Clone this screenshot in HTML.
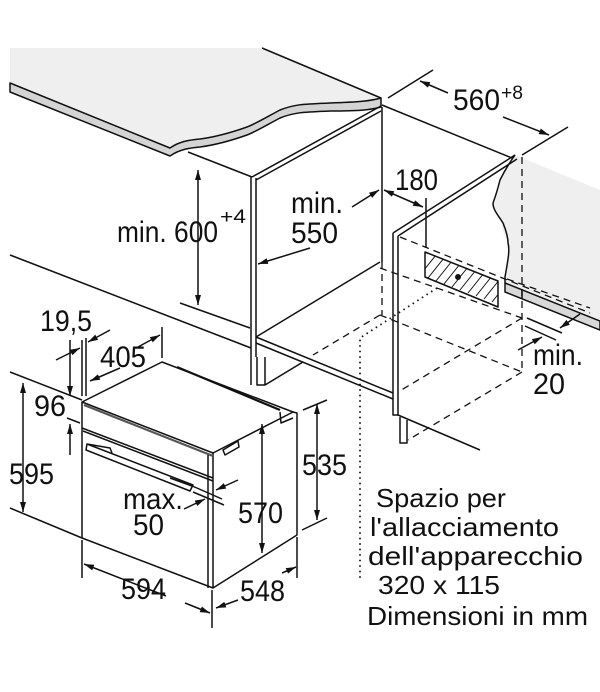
<!DOCTYPE html>
<html><head><meta charset="utf-8"><style>
html,body{margin:0;padding:0;background:#fff;}
svg{display:block;}
text{font-family:"Liberation Sans",Arial,sans-serif;fill:#111;}
</style></head><body>
<svg width="600" height="692" viewBox="0 0 600 692" xmlns="http://www.w3.org/2000/svg">
<defs>
<marker id="a" viewBox="0 0 10 6" refX="10" refY="3" markerWidth="10" markerHeight="6" orient="auto-start-reverse" markerUnits="userSpaceOnUse">
<path d="M0,0 L10,3 L0,6 z" fill="#111"/></marker>
</defs>
<g fill="none" stroke="#111" stroke-width="1.5" stroke-linejoin="round">

<!-- countertop -->
<path d="M10,48 L262,48 L381,98 C370,101 360,102 330,103 C305,104 295,104 280,110 C265,118 255,124 247,127 C230,133 215,137 200,139 C190,140 180,141 170,148 L10,83 Z" fill="#efefef" stroke="none"/>
<path d="M10,83 L170,148 C180,141 190,140 200,139 C215,137 230,133 247,127 C255,124 265,118 280,110 C295,104 305,104 330,103 C360,102 370,101 381,98 L381,107 C370,110 360,111 330,111 C305,112 295,112 280,118 C265,126 255,132 247,135 C230,141 215,145 200,147 C190,148 180,149 170,156 L10,92 Z" fill="#d4d4d4"/>
<path d="M262,48 L381,98"/>

<!-- left cabinet -->
<path d="M188,152 L252,177"/>
<path d="M251,177 L251,385 M256,178 L256,357 M252,177 L381,106 M256,180 L381,111"/>
<path d="M382,107 L382,262"/>
<path d="M256,337 L380,262 M256,337 L393,393 M256,343 L393,399"/>
<path d="M257,357 L257,385 L265,385 L265,357 M265,385 L303,362"/>
<path d="M10,255 L251,348"/>

<!-- 600 dim -->
<path d="M180,303 L250,328"/>
<path d="M198,170 L198,305" marker-start="url(#a)" marker-end="url(#a)"/>

<!-- back wall line and 560 -->
<path d="M382,105 L600,194"/>
<path d="M388,98 L433,70 M522,155 L568,127"/>
<path d="M448,93 L420,81" marker-end="url(#a)"/>
<path d="M503,117 L549,135" marker-end="url(#a)"/>

<!-- right cabinet gray region -->
<path d="M515,155 L600,190 L600,330 L505,290 L505,277 C508,260 510,250 508,243 C505,235 500,228 503,223 C498,215 493,210 493,203 C496,195 498,188 500,180 C505,170 510,162 515,155 Z" fill="#efefef" stroke="none"/>
<path d="M515,155 C510,162 505,170 500,180 C498,188 496,195 493,203 C493,210 498,215 503,223 C505,228 508,235 508,243 C510,250 508,260 505,277 L505,283"/>
<path d="M505,283 L600,321 L600,330 L505,292 Z" fill="#d8d8d8"/>
<path d="M522,290 L522,299"/>

<!-- right panel -->
<path d="M393,233 L393,415 L398,415 L398,236 M393,233 L515,155 M398,236 L517,159"/>
<path d="M400,417 L400,443 L407,443 L407,420 M398,415 L480,450"/>
<path d="M426,198 L426,248"/>

<!-- hatched -->
<clipPath id="hc"><path d="M425,252 L498,281 L498,307 L425,277 Z"/></clipPath>
<g clip-path="url(#hc)" stroke-width="1">
<path d="M420,275 L440,250 M428,278 L448,253 M436,281 L456,256 M444,284 L464,259 M452,287 L472,262 M460,290 L480,265 M468,293 L488,268 M476,296 L496,271 M484,299 L504,274 M492,302 L512,277 M500,305 L520,280"/>
</g>
<path d="M425,252 L498,281 L498,307 L425,277 Z"/>
<circle cx="458" cy="277" r="2.2" fill="#111"/>

<!-- dashed -->
<g stroke-dasharray="7,5" stroke-width="1.3">
<path d="M400,237 L590,313"/>
<path d="M507,279 L590,308"/>
<path d="M522,157 L522,372"/>
<path d="M382,262 L382,315"/>
<path d="M380,268 L522,318"/>
<path d="M380,315 L313,355"/>
<path d="M380,315 L522,372"/>
<path d="M522,318 L398,392"/>
<path d="M522,372 L408,440"/>
</g>
<g stroke-dasharray="1.5,4" stroke-width="1.8">
<path d="M437,288 L360,338 L360,580"/>
</g>

<!-- 180 / 550 arrows -->
<path d="M352,207 L379,190" marker-end="url(#a)"/>
<path d="M384,190 L423,207" marker-start="url(#a)" marker-end="url(#a)"/>
<path d="M310,248 L258,264" marker-end="url(#a)"/>

<!-- min 20 -->
<path d="M527,318 L562,333 M525,326 L556,340"/>
<path d="M580,314 L560,328" marker-end="url(#a)"/>
<path d="M518,350 L542,337" marker-end="url(#a)"/>

<!-- oven -->
<path d="M82,402 L162,362 L293,412 L213,453 Z"/>
<path d="M177,367 L280,410" stroke-width="2.2"/>
<path d="M213,453 L213,588 M82,402 L82,538 L213,588 L297,535 L297,413 L293,412"/>
<path d="M84,405 L213,456" stroke-width="2.2" stroke="#555"/>
<path d="M280,412 L281,423 L293,418"/>
<path d="M82,428 L213,478 M83,431 L213,481" />
<path d="M87,444 L193,485 L190,491 L86,450 Z M87,444 L110,448 L112,453 M170,478 L192,486"/>
<path d="M223,450 L238,441 L239,447 L225,455 Z"/>
<path d="M208,455 L208,588"/>

<!-- oven dims -->
<path d="M10,372 L82,400 M10,508 L82,538"/>
<path d="M23,383 L23,512" marker-start="url(#a)" marker-end="url(#a)"/>
<path d="M70,340 L70,396" marker-end="url(#a)"/>
<path d="M70,455 L70,424" marker-end="url(#a)"/>
<path d="M67,418 L80,423"/>
<path d="M82,340 L82,396 M86,338 L86,396"/>
<path d="M56,360 L80,348" marker-end="url(#a)"/>
<path d="M110,330 L88,342" marker-end="url(#a)"/>
<path d="M120,368 L90,381" marker-end="url(#a)"/>
<path d="M138,347 L160,335" marker-end="url(#a)"/>
<path d="M162,327 L162,358"/>
<path d="M82,540 L82,578 M212,590 L212,628 M297,537 L297,578"/>
<path d="M166,596 L84,564" marker-end="url(#a)"/>
<path d="M185,603 L210,613" marker-end="url(#a)"/>
<path d="M238,600 L216,608" marker-end="url(#a)"/>
<path d="M282,573 L296,567" marker-end="url(#a)"/>
<path d="M303,410 L327,400 M302,530 L327,518"/>
<path d="M317,404 L317,520" marker-start="url(#a)" marker-end="url(#a)"/>
<path d="M262,424 L262,553" marker-start="url(#a)" marker-end="url(#a)"/>
<path d="M190,485 L222,499 M193,492 L224,505"/>
<path d="M184,509 L205,499" marker-end="url(#a)"/>
<path d="M238,480 L216,490" marker-end="url(#a)"/>
</g>

<g font-size="30">
<text x="117" y="242" textLength="101" lengthAdjust="spacingAndGlyphs">min. 600</text>
<text x="220" y="223" font-size="19" textLength="26" lengthAdjust="spacingAndGlyphs">+4</text>
<text x="453" y="110" textLength="47" lengthAdjust="spacingAndGlyphs">560</text>
<text x="501" y="99" font-size="19" textLength="22" lengthAdjust="spacingAndGlyphs">+8</text>
<text x="291" y="213" textLength="52" lengthAdjust="spacingAndGlyphs">min.</text>
<text x="291" y="243" textLength="47" lengthAdjust="spacingAndGlyphs">550</text>
<text x="395" y="190" textLength="43" lengthAdjust="spacingAndGlyphs">180</text>
<text x="533" y="365" textLength="50" lengthAdjust="spacingAndGlyphs">min.</text>
<text x="533" y="394" textLength="32" lengthAdjust="spacingAndGlyphs">20</text>
<text x="40" y="331" textLength="52" lengthAdjust="spacingAndGlyphs">19,5</text>
<text x="100" y="367" textLength="46" lengthAdjust="spacingAndGlyphs">405</text>
<text x="34" y="416" textLength="32" lengthAdjust="spacingAndGlyphs">96</text>
<text x="9" y="484" textLength="45" lengthAdjust="spacingAndGlyphs">595</text>
<text x="123" y="509" textLength="60" lengthAdjust="spacingAndGlyphs">max.</text>
<text x="133" y="535" textLength="31" lengthAdjust="spacingAndGlyphs">50</text>
<text x="238" y="523" textLength="45" lengthAdjust="spacingAndGlyphs">570</text>
<text x="302" y="475" textLength="45" lengthAdjust="spacingAndGlyphs">535</text>
<text x="121" y="599" textLength="45" lengthAdjust="spacingAndGlyphs">594</text>
<text x="240" y="601" textLength="45" lengthAdjust="spacingAndGlyphs">548</text>
</g>
<g font-size="26">
<text x="376" y="507" textLength="130" lengthAdjust="spacingAndGlyphs">Spazio per</text>
<text x="370" y="536" textLength="189" lengthAdjust="spacingAndGlyphs">l'allacciamento</text>
<text x="368" y="565" textLength="215" lengthAdjust="spacingAndGlyphs">dell'apparecchio</text>
<text x="378" y="594" textLength="122" lengthAdjust="spacingAndGlyphs">320 x 115</text>
<text x="367" y="625" textLength="221" lengthAdjust="spacingAndGlyphs">Dimensioni in mm</text>
</g>
</svg>
</body></html>
